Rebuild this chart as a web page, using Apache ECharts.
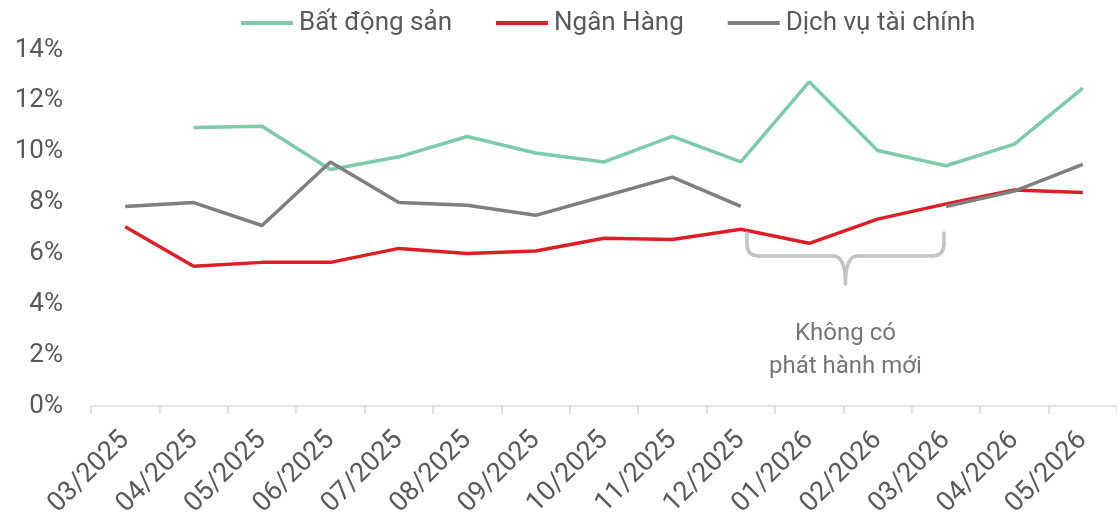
<!DOCTYPE html>
<html>
<head>
<meta charset="utf-8">
<script src="https://cdn.jsdelivr.net/npm/echarts@6/dist/echarts.min.js"></script>
<style>
  html, body { margin: 0; padding: 0; background: #fff; }
  #chart { width: 1117px; height: 520px; }
</style>
</head>
<body>
<div id="chart"></div>
<script>
const months = ['03/2025', '04/2025', '05/2025', '06/2025', '07/2025', '08/2025', '09/2025', '10/2025',
  '11/2025', '12/2025', '01/2026', '02/2026', '03/2026', '04/2026', '05/2026'];
const batDongSan = [null, 10.95, 11.0, 9.3, 9.8, 10.6, 9.95, 9.6, 10.6, 9.6, 12.75, 10.05, 9.45, 10.3, 12.5];
const nganHang = [7.05, 5.5, 5.65, 5.65, 6.2, 6.0, 6.1, 6.6, 6.55, 6.95, 6.4, 7.35, 7.95, 8.5, 8.4];
const dichVuTaiChinh = [7.85, 8.0, 7.1, 9.6, 8.0, 7.9, 7.5, 8.25, 9.0, 7.85, null, null, 7.85, 8.45, 9.5];
const yTicks = [0, 2, 4, 6, 8, 10, 12, 14];
const noteText = 'Không có\nphát hành mới';

const FONT = 'Roboto, "DejaVu Sans", sans-serif';
const chart = echarts.init(document.getElementById('chart'), null, { renderer: 'canvas' });

function lineSeries(name, data, color) {
  return {
    name: name,
    type: 'line',
    data: data,
    symbol: 'none',
    connectNulls: false,
    lineStyle: { color: color, width: 3.5 },
    itemStyle: { color: color }
  };
}

const option = {
  backgroundColor: '#fff',
  animation: false,
  textStyle: { fontFamily: FONT },
  legend: {
    top: 5,
    left: 236,
    itemWidth: 52,
    itemHeight: 4,
    itemGap: 44,
    icon: 'rect',
    textStyle: { fontSize: 26, color: '#595959', fontFamily: FONT, padding: [0, 0, 0, 1] },
    data: ['Bất động sản', 'Ngân Hàng', 'Dịch vụ tài chính']
  },
  grid: { left: 91, right: -4, top: 50, bottom: 112, containLabel: false },
  xAxis: {
    type: 'category',
    data: months,
    boundaryGap: true,
    axisLine: { lineStyle: { color: '#d9d9d9', width: 1.5 } },
    axisTick: { show: true, length: 8, lineStyle: { color: '#d9d9d9', width: 1.5 } },
    axisLabel: { rotate: 45, margin: 30, fontSize: 27, color: '#5a5a5a', fontFamily: FONT, interval: 0 }
  },
  yAxis: {
    type: 'value',
    min: yTicks[0],
    max: yTicks[yTicks.length - 1],
    interval: 2,
    axisLine: { show: false },
    axisTick: { show: false },
    splitLine: { show: false },
    axisLabel: { formatter: '{value}%', margin: 28, fontSize: 26, color: '#595959', fontFamily: FONT }
  },
  series: [
    lineSeries('Bất động sản', batDongSan, '#7dcbaa'),
    lineSeries('Ngân Hàng', nganHang, '#dc1f26'),
    lineSeries('Dịch vụ tài chính', dichVuTaiChinh, '#7f7f7f')
  ]
};

chart.setOption(option);

// brace over the months with no new issuance (12/2025 -> 03/2026)
function drawNote() {
  const a = chart.convertToPixel({ xAxisIndex: 0, yAxisIndex: 0 }, [9, 6.8]);
  const b = chart.convertToPixel({ xAxisIndex: 0, yAxisIndex: 0 }, [12, 5.9]);
  const tip = chart.convertToPixel({ yAxisIndex: 0 }, 4.8);
  const step = b[0] - a[0];
  const x0 = a[0] + step * 0.03;
  const x1 = b[0] - step * 0.01;
  const yTop = a[1];
  const yMid = b[1];
  const xc = (x0 + x1) / 2;
  const r = 12;
  const st = { stroke: '#c3c3c3', lineWidth: 3.5, fill: null, lineCap: 'round' };
  const parts = [
    { type: 'line', shape: { x1: x0, y1: yTop, x2: x0, y2: yMid - r } },
    { type: 'bezierCurve', shape: { x1: x0, y1: yMid - r, cpx1: x0, cpy1: yMid, x2: x0 + r, y2: yMid } },
    { type: 'line', shape: { x1: x0 + r, y1: yMid, x2: xc - r, y2: yMid } },
    { type: 'bezierCurve', shape: { x1: xc - r, y1: yMid, cpx1: xc, cpy1: yMid, x2: xc, y2: tip } },
    { type: 'bezierCurve', shape: { x1: xc + r, y1: yMid, cpx1: xc, cpy1: yMid, x2: xc, y2: tip } },
    { type: 'line', shape: { x1: xc + r, y1: yMid, x2: x1 - r, y2: yMid } },
    { type: 'bezierCurve', shape: { x1: x1 - r, y1: yMid, cpx1: x1, cpy1: yMid, x2: x1, y2: yMid - r } },
    { type: 'line', shape: { x1: x1, y1: yMid - r, x2: x1, y2: yTop } }
  ].map(function (p) { p.style = st; p.z = 5; return p; });
  parts.push({
    type: 'text',
    x: xc,
    y: tip + 34,
    z: 5,
    style: {
      text: noteText,
      fill: '#767676',
      font: '24px ' + FONT,
      align: 'center',
      verticalAlign: 'top',
      lineHeight: 33
    }
  });
  chart.setOption({ graphic: parts });
}
drawNote();
</script>
</body>
</html>
